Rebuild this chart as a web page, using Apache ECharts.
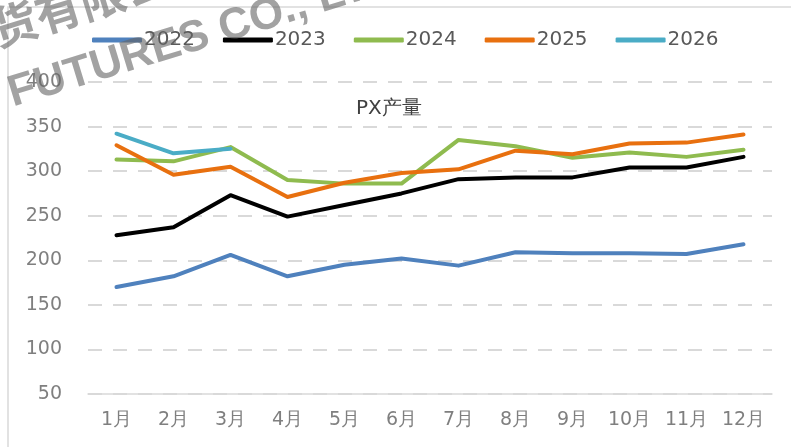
<!DOCTYPE html>
<html>
<head>
<meta charset="utf-8">
<style>
  html, body { margin: 0; padding: 0; background: #ffffff; }
  #chart { width: 791px; height: 447px; }
</style>
<script src="https://cdn.jsdelivr.net/npm/echarts@6/dist/echarts.min.js"></script>
</head>
<body>
<div id="chart"></div>
<script>
// Monthly PX output by year
const months = ['1月', '2月', '3月', '4月', '5月', '6月', '7月', '8月', '9月', '10月', '11月', '12月'];
const y2022 = [170, 182, 206, 182, 195, 202, 194, 209, 208, 208, 207, 218];
const y2023 = [228, 237, 273, 249, 262, 275, 291, 293, 293, 304, 304, 316];
const y2024 = [313, 311, 327, 290, 286, 286, 335, 328, 315, 321, 316, 324];
const y2025 = [329, 296, 305, 271, 287, 298, 302, 323, 319, 331, 332, 341];
const y2026 = [342, 320, 325];
const yearNames = ['2022', '2023', '2024', '2025', '2026'];
const yearColors = ['#4f81bd', '#000000', '#8fbb4f', '#e8700f', '#4aacc6'];

const yearData = [y2022, y2023, y2024, y2025, y2026];
const FONT = 'DejaVu Sans';

const chart = echarts.init(document.getElementById('chart'), null, { renderer: 'canvas' });

const series = yearNames.map((name, i) => ({
  name: name,
  type: 'line',
  data: yearData[i],
  symbol: 'none',
  smooth: false,
  lineStyle: { color: yearColors[i], width: 4, cap: 'round', join: 'round' },
  itemStyle: { color: yearColors[i] },
  z: 2 + i
}));

chart.setOption({
  animation: false,
  backgroundColor: '#ffffff',
  title: {
    text: 'PX产量',
    left: 351,
    top: 94,
    textStyle: { fontFamily: FONT, fontSize: 20, fontWeight: 'normal', color: '#404040' }
  },
  legend: {
    left: 87,
    top: 25,
    itemWidth: 50,
    itemHeight: 5,
    itemGap: 28,
    icon: 'roundRect',
    textStyle: { fontFamily: FONT, fontSize: 20, color: '#595959', padding: [0, 0, 0, -3] },
    data: yearNames
  },
  grid: { left: 88, right: 19, top: 82, bottom: 53, containLabel: false },
  xAxis: {
    type: 'category',
    data: months,
    boundaryGap: true,
    axisLine: { show: true, lineStyle: { color: '#d9d9d9', width: 1.5 } },
    axisTick: { show: false },
    axisLabel: { fontFamily: FONT, fontSize: 19, color: '#7f7f7f', margin: 17 }
  },
  yAxis: {
    type: 'value',
    min: 50,
    max: 400,
    interval: 50,
    axisLine: { show: false },
    axisTick: { show: false },
    axisLabel: { fontFamily: FONT, fontSize: 19, color: '#7f7f7f', margin: 26 },
    splitLine: { show: true, lineStyle: { color: '#d9d9d9', width: 2, type: [14, 11] } }
  },
  series: series,
  graphic: [
    {
      type: 'rect',
      shape: { x: 8, y: 7, width: 800, height: 460 },
      style: { fill: 'none', stroke: '#d9d9d9', lineWidth: 1.5 },
      silent: true,
      z: 0
    },
    {
      type: 'text',
      x: 16,
      y: 116,
      rotation: 17 * Math.PI / 180,
      style: {
        text: 'FUTURES CO., LTD',
        font: 'bold 44px "Liberation Sans"',
        fill: 'rgba(100,100,100,0.6)',
        textVerticalAlign: 'bottom'
      },
      silent: true,
      z: 100
    },
    {
      type: 'text',
      x: -45,
      y: 66,
      rotation: 17 * Math.PI / 180,
      style: {
        text: '期货有限公司',
        font: 'bold 46px "Noto Sans CJK SC"',
        fill: 'rgba(100,100,100,0.6)',
        textVerticalAlign: 'bottom'
      },
      silent: true,
      z: 100
    }
  ]
});
</script>
</body>
</html>
